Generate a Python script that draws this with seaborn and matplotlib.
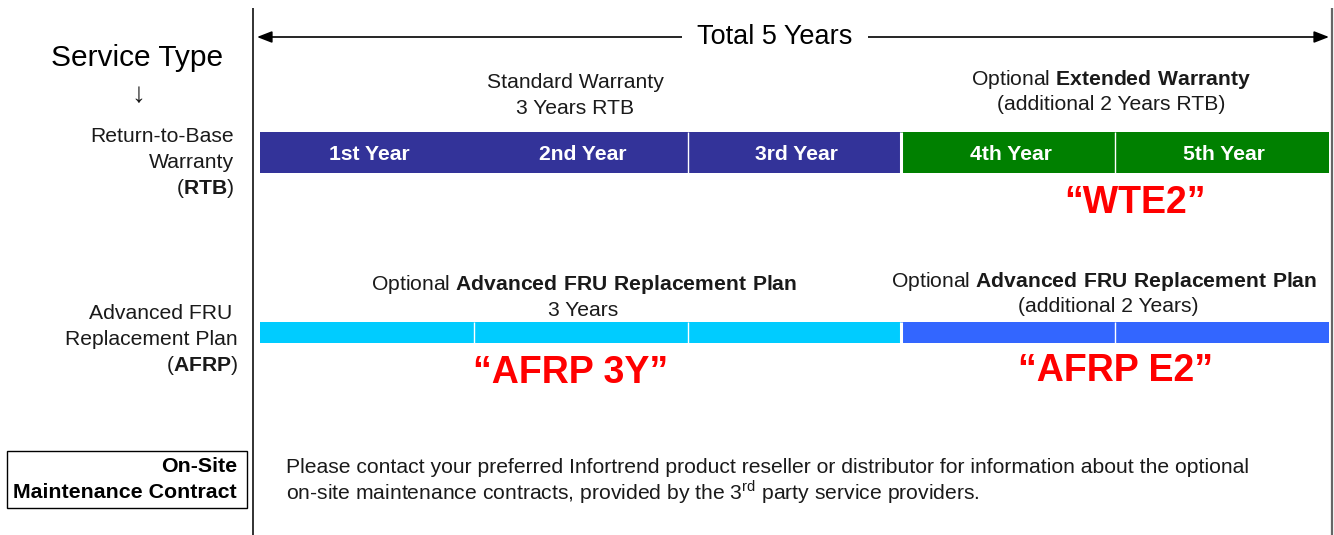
import numpy as np
import pandas as pd
import seaborn as sns
import matplotlib
matplotlib.use("Agg")
import matplotlib.pyplot as plt
from matplotlib.patches import Rectangle

sns.set_style("white")
plt.rcParams["font.family"] = ["Liberation Sans", "DejaVu Sans"]
plt.rcParams["mathtext.fontset"] = "custom"
plt.rcParams["mathtext.rm"] = "Liberation Sans"
plt.rcParams["mathtext.bf"] = "Liberation Sans:bold"

# data
years = ["1st Year", "2nd Year", "3rd Year", "4th Year", "5th Year"]
year_start = [0, 1, 2, 3, 4]
year_len = [1, 1, 1, 1, 1]
rtb_colors = ["#333399", "#333399", "#333399", "#008000", "#008000"]
afrp_colors = ["#00CCFF", "#00CCFF", "#00CCFF", "#3366FF", "#3366FF"]
rtb_dividers = [2, 4]
afrp_dividers = [1, 2, 4]
plan_break = [3]
total_years = 5

df = pd.DataFrame({"year": years, "start": year_start, "length": year_len,
                   "rtb": rtb_colors, "afrp": afrp_colors})

# pixel -> year scale of the drawing
X0, PX_YEAR = 260, 213.8


def tx(px):
    return (px - X0) / PX_YEAR


fig = plt.figure(figsize=(13.34, 5.35), dpi=100)
ax = fig.add_axes([0, 0, 1, 1])
ax.set_xlim(tx(0), tx(1334))
ax.set_ylim(535, 0)
ax.axis("off")

TXT = "#1a1a1a"
FS = 15.2

# bars
ax.barh(152.5, df["length"], left=df["start"], height=41, color=df["rtb"], linewidth=0)
ax.barh(332.5, df["length"], left=df["start"], height=21, color=df["afrp"], linewidth=0)
ax.vlines(rtb_dividers, 132, 173, color="white", lw=1.0)
ax.vlines(afrp_dividers, 322, 343, color="white", lw=1.0)
ax.vlines(plan_break, 132, 173, color="white", lw=2.2)
ax.vlines(plan_break, 322, 343, color="white", lw=2.2)

for _, r in df.iterrows():
    ax.text(r["start"] + r["length"] / 2 + 0.01, 160, r["year"], color="white",
            fontsize=FS, fontweight="bold", ha="center", va="baseline")

# frame lines
ax.vlines(tx(253), 8, 535, color="#222222", lw=1.3)
ax.vlines(tx(1332), 8, 535, color="#666666", lw=1.6)

# total span arrow
ax.annotate("", xy=(total_years, 37), xytext=(tx(257), 37),
            arrowprops=dict(arrowstyle="<|-|>,head_length=0.9,head_width=0.35",
                            lw=1.2, color="black", shrinkA=0, shrinkB=0))
ax.text(tx(775), 44, "Total 5 Years", fontsize=19.5, ha="center", va="baseline",
        color="black", bbox=dict(boxstyle="square,pad=0.55", fc="white", ec="none"))

# left column
ax.text(tx(137), 66, "Service Type", fontsize=21.5, ha="center", va="baseline", color="black")
ax.text(tx(138), 102, "\u2193", fontsize=20, ha="center", va="baseline", color=TXT)
ax.text(tx(234), 142, "Return-to-Base", fontsize=FS, ha="right", va="baseline", color=TXT)
ax.text(tx(234), 168, "Warranty", fontsize=FS, ha="right", va="baseline", color=TXT)
ax.text(tx(234), 194, r"($\mathbf{RTB}$)", fontsize=FS, ha="right", va="baseline", color=TXT)

ax.text(tx(232), 319, "Advanced FRU", fontsize=FS, ha="right", va="baseline", color=TXT)
ax.text(tx(238), 345, "Replacement Plan", fontsize=FS, ha="right", va="baseline", color=TXT)
ax.text(tx(238), 371, r"($\mathbf{AFRP}$)", fontsize=FS, ha="right", va="baseline", color=TXT)

ax.add_patch(Rectangle((tx(7), 451), 240 / PX_YEAR, 57, fill=False, ec="black", lw=1.0))
ax.text(tx(237), 472, "On-Site", fontsize=15.4, fontweight="bold", ha="right", va="baseline",
        color="black")
ax.text(tx(237), 498, "Maintenance Contract", fontsize=15.4, fontweight="bold", ha="right",
        va="baseline", color="black")

# plan captions
ax.text(tx(575), 88, "Standard Warranty", fontsize=FS, ha="center", va="baseline", color=TXT)
ax.text(tx(575), 114, "3 Years RTB", fontsize=FS, ha="center", va="baseline", color=TXT)
ax.text(tx(1111), 85, r"Optional $\mathbf{Extended\ Warranty}$", fontsize=FS,
        ha="center", va="baseline", color=TXT)
ax.text(tx(1111), 110, "(additional 2 Years RTB)", fontsize=FS, ha="center", va="baseline", color=TXT)

ax.text(tx(584), 290, r"Optional $\mathbf{Advanced\ FRU\ Replacement\ Plan}$", fontsize=FS,
        ha="center", va="baseline", color=TXT)
ax.text(tx(583), 316, "3 Years", fontsize=FS, ha="center", va="baseline", color=TXT)
ax.text(tx(1104), 287, r"Optional $\mathbf{Advanced\ FRU\ Replacement\ Plan}$", fontsize=FS,
        ha="center", va="baseline", color=TXT)
ax.text(tx(1108), 312, "(additional 2 Years)", fontsize=FS, ha="center", va="baseline", color=TXT)

# part codes
RED = "#FF0000"
ax.text(tx(1135), 213, "\u201cWTE2\u201d", fontsize=27, fontweight="bold", ha="center",
        va="baseline", color=RED)
ax.text(tx(571), 383, "\u201cAFRP 3Y\u201d", fontsize=27, fontweight="bold", ha="center",
        va="baseline", color=RED)
ax.text(tx(1115), 381, "\u201cAFRP E2\u201d", fontsize=27, fontweight="bold", ha="center",
        va="baseline", color=RED)

# on-site note
ax.text(tx(286), 473, "Please contact your preferred Infortrend product reseller or distributor "
        "for information about the optional", fontsize=15.25, ha="left", va="baseline", color=TXT)
ax.text(tx(286), 499, r"on-site maintenance contracts, provided by the 3$^{\mathrm{rd}}$ party "
        "service providers.", fontsize=15.25, ha="left", va="baseline", color=TXT)

fig.savefig("out.png", dpi=100, facecolor="white")
